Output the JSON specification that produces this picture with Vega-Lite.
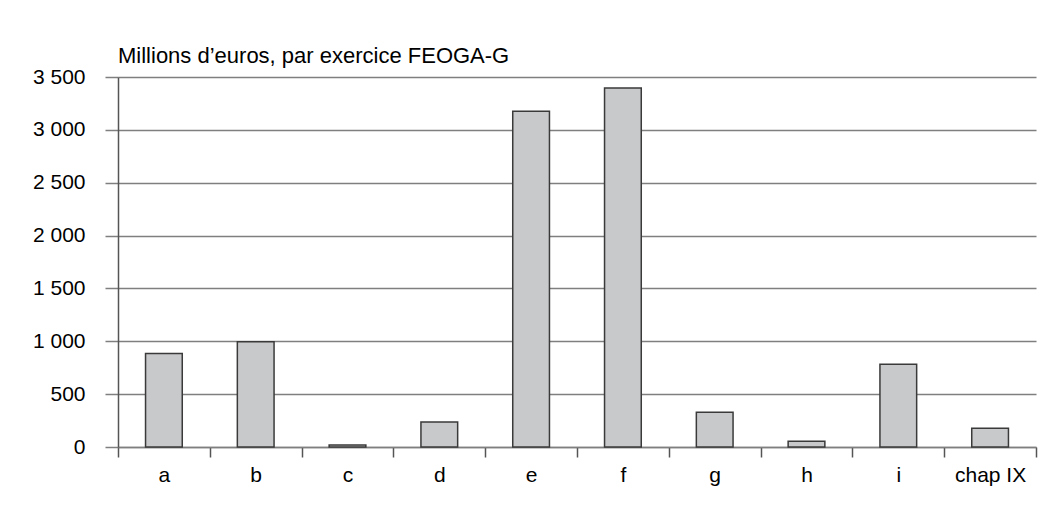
{
  "$schema": "https://vega.github.io/schema/vega-lite/v6.json",
  "width": 918,
  "height": 370,
  "autosize": {"type": "none"},
  "padding": {"left": 118, "top": 77, "right": 15, "bottom": 61},
  "background": "white",
  "title": {
    "text": "Millions d’euros, par exercice FEOGA-G",
    "anchor": "start",
    "frame": "group",
    "baseline": "alphabetic",
    "offset": -19,
    "font": "Liberation Sans",
    "fontSize": 22,
    "fontWeight": "normal",
    "color": "#000000"
  },
  "config": {
    "view": {"stroke": null},
    "axis": {"labelFont": "Liberation Sans", "labelFontSize": 21, "labelColor": "#000000"}
  },
  "data": {
    "values": [
      {"cat": "a", "value": 885},
      {"cat": "b", "value": 995},
      {"cat": "c", "value": 20},
      {"cat": "d", "value": 236},
      {"cat": "e", "value": 3175},
      {"cat": "f", "value": 3395},
      {"cat": "g", "value": 328},
      {"cat": "h", "value": 54},
      {"cat": "i", "value": 782},
      {"cat": "chap IX", "value": 177}
    ]
  },
  "mark": {"type": "bar", "width": {"band": 0.4}, "fill": "#c8c9cb", "stroke": "#3a3a3a", "strokeWidth": 1.5},
  "encoding": {
    "x": {
      "field": "cat",
      "type": "nominal",
      "sort": null,
      "scale": {"paddingInner": 0, "paddingOuter": 0},
      "axis": {
        "title": null,
        "labelAngle": 0,
        "tickBand": "extent",
        "tickSize": 10,
        "tickColor": "#555555",
        "tickWidth": 1.5,
        "domainColor": "#7f7f7f",
        "domainWidth": 1.5,
        "labelPadding": 7,
        "grid": false
      }
    },
    "y": {
      "field": "value",
      "type": "quantitative",
      "scale": {"domain": [0, 3500], "nice": false},
      "axis": {
        "title": null,
        "values": [0, 500, 1000, 1500, 2000, 2500, 3000, 3500],
        "labelExpr": "replace(format(datum.value, ','), ',', ' ')",
        "tickSize": 13,
        "tickColor": "#7f7f7f",
        "tickWidth": 1.5,
        "labelPadding": 20,
        "domainColor": "#555555",
        "domainWidth": 1.5,
        "grid": true,
        "gridColor": "#7f7f7f",
        "gridWidth": 1.5
      }
    }
  }
}
